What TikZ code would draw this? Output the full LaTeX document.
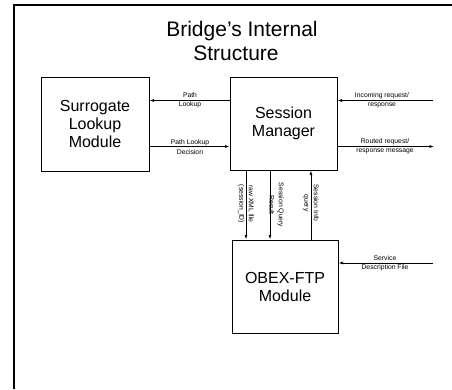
\documentclass[tikz,border=0pt]{standalone}
\usepackage{fontspec}
\setmainfont{Liberation Sans}
\usetikzlibrary{arrows.meta}
\begin{document}
\begin{tikzpicture}[x=1pt,y=-1pt,
  box/.style={draw, line width=1pt, align=center, inner sep=0pt,
    font=\fontsize{16}{18}\selectfont},
  arr/.style={line width=0.8pt, -{Latex[length=4.5pt,width=3pt]}},
  lbl/.style={align=center, inner sep=0pt, font=\fontsize{6.8}{9.5}\selectfont},
  frame/.style={line width=1.3pt}]
\useasboundingbox (0,0) rectangle (452,389);
% outer frame (top and left only visible)
\coordinate (fa) at (14,389);
\coordinate (fb) at (14,5);
\coordinate (fc) at (452,5);
\draw[frame] (fa) -- (fb) -- (fc);
% title
\node[font=\fontsize{21}{23}\selectfont, inner sep=0pt] (t1) at (242,31) {Bridge's Internal};
\node[font=\fontsize{21}{23}\selectfont, inner sep=0pt] (t2) at (236,53) {Structure};
% boxes
\node[box, minimum width=108pt, minimum height=94pt] (sl) at (95,124) {Surrogate\\Lookup\\Module};
\node[box, minimum width=107pt, minimum height=93pt] (sm) at (283.5,123.5) {Session\\Manager};
\node[box, minimum width=106pt, minimum height=93pt] (ob) at (285,286.5) {OBEX-FTP\\Module};
% level coordinates
\coordinate (yA) at (0,100.5);
\coordinate (yB) at (0,146.5);
\coordinate (yC) at (0,263);
\coordinate (inc) at (433,100.5);
\coordinate (rout) at (434,146.5);
\coordinate (sdf) at (433,263);
\coordinate (xA) at (246,0);
\coordinate (xB) at (270,0);
\coordinate (xC) at (311,0);
% horizontal connectors
\draw[arr] (sm.west |- yA) -- (sl.east |- yA);
\draw[arr] (sl.east |- yB) -- (sm.west |- yB);
\draw[arr] (inc) -- (sm.east |- yA);
\draw[arr] (sm.east |- yB) -- (rout);
\draw[arr] (sdf) -- (ob.east |- yC);
% vertical connectors
\draw[arr] (sm.south -| xA) -- (ob.north -| xA);
\draw[arr] (sm.south -| xB) -- (ob.north -| xB);
\draw[arr] (ob.north -| xC) -- (sm.south -| xC);
% labels
\node[lbl] (l1) at (190,100) {Path\\Lookup};
\node[lbl] (l2) at (190,147) {Path Lookup\\Decision};
\node[lbl] (l3) at (382,100) {Incoming request/\\response};
\node[lbl] (l4) at (385,146) {Routed request/\\response message};
\node[lbl] (l5) at (385,263) {Service\\Description File};
\node[lbl, rotate=-90] (l6) at (246,204) {raw XML file\\(session\_ID)};
\node[lbl, rotate=-90] (l7) at (276.5,205) {Session Query\\Result};
\node[lbl, rotate=-90] (l8) at (311,203) {Session Info\\query};
\end{tikzpicture}
\end{document}
